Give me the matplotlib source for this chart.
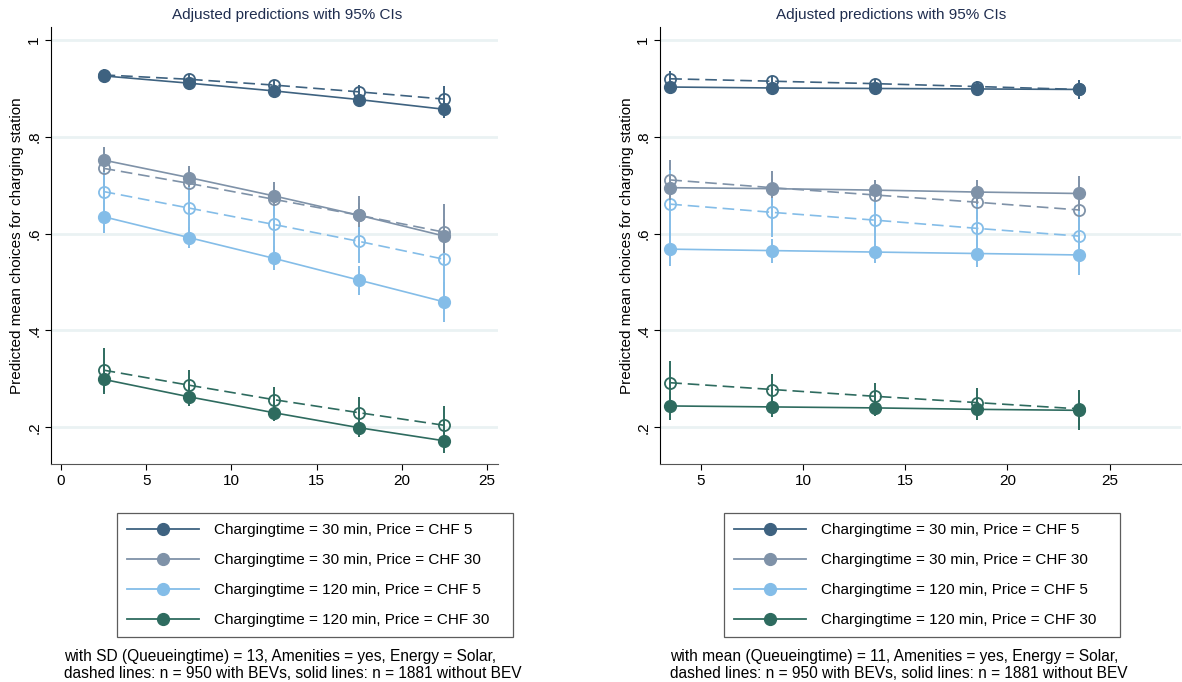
import numpy as np
import matplotlib
matplotlib.use("Agg")
from matplotlib import pyplot as plt
from matplotlib.lines import Line2D

plt.rcParams['font.family'] = ['Liberation Sans', 'DejaVu Sans']
plt.rcParams['font.size'] = 11

# queueing time positions
x_left = [2.5, 7.5, 12.5, 17.5, 22.5]
x_right = [3.5, 8.5, 13.5, 18.5, 23.5]

labels = ['Chargingtime = 30 min, Price = CHF 5',
          'Chargingtime = 30 min, Price = CHF 30',
          'Chargingtime = 120 min, Price = CHF 5',
          'Chargingtime = 120 min, Price = CHF 30']
colors = ['#3e6280', '#7f92a8', '#84bde8', '#2e6b5f']

# left panel (SD queueing time) - solid: without BEV, dashed: with BEVs
left_solid = [[0.926, 0.911, 0.895, 0.877, 0.857],
              [0.752, 0.716, 0.678, 0.638, 0.595],
              [0.635, 0.592, 0.549, 0.504, 0.459],
              [0.299, 0.263, 0.230, 0.199, 0.172]]
left_solid_ci = [[0.010, 0.010, 0.011, 0.013, 0.018],
                 [0.025, 0.020, 0.020, 0.025, 0.035],
                 [0.033, 0.022, 0.025, 0.030, 0.041],
                 [0.030, 0.020, 0.018, 0.020, 0.025]]
left_dash = [[0.928, 0.919, 0.907, 0.893, 0.878],
             [0.735, 0.704, 0.671, 0.638, 0.603],
             [0.687, 0.653, 0.619, 0.584, 0.547],
             [0.318, 0.287, 0.257, 0.230, 0.204]]
left_dash_ci = [[0.012, 0.010, 0.010, 0.015, 0.027],
                [0.045, 0.035, 0.035, 0.040, 0.058],
                [0.085, 0.060, 0.053, 0.045, 0.070],
                [0.045, 0.031, 0.027, 0.032, 0.040]]

# right panel (mean queueing time)
right_solid = [[0.903, 0.901, 0.900, 0.899, 0.898],
               [0.695, 0.693, 0.690, 0.686, 0.683],
               [0.568, 0.565, 0.562, 0.559, 0.556],
               [0.244, 0.242, 0.240, 0.237, 0.235]]
right_solid_ci = [[0.010, 0.008, 0.008, 0.010, 0.020],
                  [0.025, 0.020, 0.020, 0.025, 0.036],
                  [0.035, 0.025, 0.022, 0.028, 0.042],
                  [0.028, 0.020, 0.017, 0.022, 0.040]]
right_dash = [[0.920, 0.915, 0.910, 0.904, 0.898],
              [0.711, 0.695, 0.680, 0.665, 0.649],
              [0.661, 0.644, 0.628, 0.611, 0.595],
              [0.292, 0.278, 0.264, 0.251, 0.238]]
right_dash_ci = [[0.016, 0.010, 0.010, 0.012, 0.020],
                 [0.042, 0.035, 0.030, 0.035, 0.045],
                 [0.070, 0.050, 0.045, 0.050, 0.070],
                 [0.044, 0.032, 0.027, 0.030, 0.040]]

yticks = [0.2, 0.4, 0.6, 0.8, 1.0]
yticklabels = ['.2', '.4', '.6', '.8', '1']
title = 'Adjusted predictions with 95% CIs'
ylabel = 'Predicted mean choices for charging station'
notes = ['with SD (Queueingtime) = 13, Amenities = yes, Energy = Solar,\n'
         'dashed lines: n = 950 with BEVs, solid lines: n = 1881 without BEV',
         'with mean (Queueingtime) = 11, Amenities = yes, Energy = Solar,\n'
         'dashed lines: n = 950 with BEVs, solid lines: n = 1881 without BEV']

fig = plt.figure(figsize=(11.82, 6.82), dpi=100)
ax1 = fig.add_axes([0.0431, 0.3196, 0.3782, 0.6408])
ax2 = fig.add_axes([0.5584, 0.3196, 0.4408, 0.6408])


def draw_panel(ax, x, solid, solid_ci, dash, dash_ci, xlim, xticks):
    for ys, es, yd, ed, c in zip(solid, solid_ci, dash, dash_ci, colors):
        ax.errorbar(x, yd, yerr=ed, color=c, ls=(0, (7, 3.5)), lw=1.2,
                    marker='o', ms=8, mfc='none', mec=c, mew=1.3,
                    elinewidth=1.4, capsize=0, zorder=3)
        ax.errorbar(x, ys, yerr=es, color=c, ls='-', lw=1.2,
                    marker='o', ms=8.5, mfc=c, mec=c,
                    elinewidth=1.4, capsize=0, zorder=4)
    ax.set_xlim(xlim)
    ax.set_ylim(0.124, 1.027)
    ax.set_xticks(xticks)
    ax.set_yticks(yticks)
    ax.set_yticklabels(yticklabels, rotation=90, va='center')
    ax.grid(axis='y', color='#eaf2f3', lw=2)
    ax.set_axisbelow(True)
    for s in ['top', 'right']:
        ax.spines[s].set_visible(False)
    ax.spines['left'].set_color('black')
    ax.spines['bottom'].set_color('#555555')
    ax.tick_params(length=4, width=0.8, labelsize=11, pad=3)
    ax.set_ylabel(ylabel, fontsize=11, labelpad=2)


draw_panel(ax1, x_left, left_solid, left_solid_ci, left_dash, left_dash_ci,
           (-0.59, 25.65), [0, 5, 10, 15, 20, 25])
draw_panel(ax2, x_right, right_solid, right_solid_ci, right_dash, right_dash_ci,
           (3.0, 28.5), [5, 10, 15, 20, 25])

fig.text(0.243, 0.978, title, ha='center', va='center', color='#1f2d4f', fontsize=11)
fig.text(0.754, 0.978, title, ha='center', va='center', color='#1f2d4f', fontsize=11)

handles = [Line2D([0], [0], color=c, lw=1.3, marker='o', ms=8.5, mfc=c, mec=c)
           for c in colors]
for bx in [117 / 1182, 724 / 1182]:
    fig.legend(handles, labels, loc='upper left', mode='expand',
               bbox_to_anchor=(bx, 1 - 637 / 682, 396 / 1182, 124 / 682),
               frameon=True, fancybox=False,
               edgecolor='#333333', handlelength=4.7, handletextpad=1.0,
               labelspacing=1.05, borderpad=0.65, borderaxespad=0,
               fontsize=11).get_frame().set_linewidth(0.9)

fig.text(64 / 1182, 1 - 665 / 682, notes[0], ha='left', va='center',
         fontsize=11.2, linespacing=1.1)
fig.text(670 / 1182, 1 - 665 / 682, notes[1], ha='left', va='center',
         fontsize=11.2, linespacing=1.1)

fig.savefig('out.png', dpi=100)
